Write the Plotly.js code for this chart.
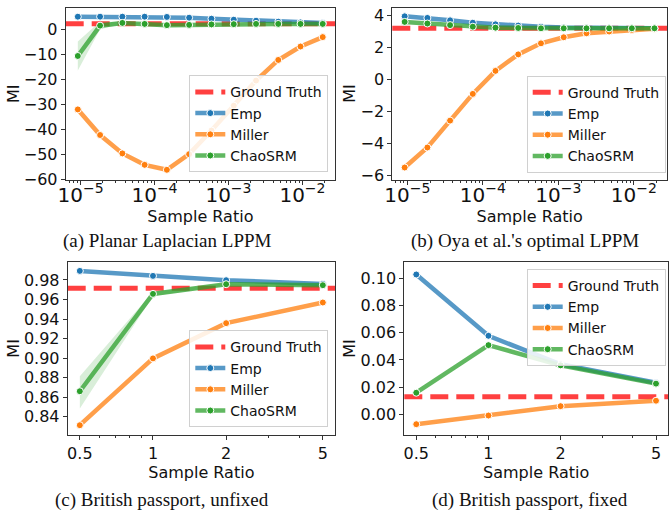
<!DOCTYPE html>
<html>
<head>
<meta charset="utf-8">
<script src="https://cdn.plot.ly/plotly-3.0.1.min.js"></script>
<style>html,body{margin:0;padding:0;background:#fff;}#chart{width:669px;height:516px;}</style>
</head>
<body>
<div id="chart"></div>
<script>
// ---------- data ----------
const seriesNames = ["Ground Truth", "Emp", "Miller", "ChaoSRM"];
const captions = ["(a) Planar Laplacian LPPM", "(b) Oya et al.'s optimal LPPM", "(c) British passport, unfixed", "(d) British passport, fixed"];

const xRatioSmall = [9.2e-6, 1.84e-5, 3.68e-5, 7.36e-5, 1.47e-4, 2.94e-4, 5.89e-4, 1.18e-3, 2.36e-3, 4.71e-3, 9.42e-3, 1.88e-2];
const xRatioBig = [0.5, 1, 2, 5];

// (a) Planar Laplacian LPPM
const gtA = 2.5;
const empA = [5.3, 5.3, 5.3, 5.3, 5.2, 4.9, 4.5, 4.1, 3.7, 3.3, 3.0, 2.8];
const millerA = [-32.0, -42.3, -49.7, -54.3, -56.3, -50.0, -40.5, -30.5, -20.4, -12.1, -6.7, -2.9];
const chaoA = [-10.5, 1.7, 2.8, 2.4, 1.9, 2.0, 2.2, 2.3, 2.4, 2.4, 2.4, 2.4];
const chaoALo = [-16.3, 0.3, 2.4, 2.2, 1.7, 1.9, 2.1, 2.2, 2.3, 2.3, 2.3, 2.3];
const chaoAHi = [-4.7, 3.4, 3.2, 2.6, 2.1, 2.1, 2.3, 2.4, 2.5, 2.5, 2.5, 2.5];

// (b) Oya et al.'s optimal LPPM
const gtB = 3.2;
const empB = [3.95, 3.85, 3.7, 3.55, 3.45, 3.37, 3.3, 3.25, 3.22, 3.2, 3.2, 3.2];
const millerB = [-5.5, -4.25, -2.57, -0.9, 0.54, 1.57, 2.26, 2.64, 2.89, 3.0, 3.1, 3.17];
const chaoB = [3.6, 3.5, 3.4, 3.3, 3.24, 3.22, 3.2, 3.2, 3.2, 3.2, 3.2, 3.2];

// (c) British passport, unfixed
const gtC = 0.9715;
const empC = [0.9892, 0.9841, 0.9797, 0.9759];
const millerC = [0.8315, 0.8998, 0.9358, 0.9569];
const chaoC = [0.8662, 0.9657, 0.9756, 0.9746];
const chaoCLo = [0.8485, 0.9635, 0.9745, 0.9738];
const chaoCHi = [0.8815, 0.9680, 0.9767, 0.9754];

// (d) British passport, fixed
const gtD = 0.0128;
const empD = [0.103, 0.0578, 0.0368, 0.0232];
const millerD = [-0.0074, -0.001, 0.0059, 0.0099];
const chaoD = [0.0158, 0.0509, 0.036, 0.0225];

// ---------- styles ----------
const col = {
  gt: "rgba(255,0,0,0.75)",
  emp: "rgba(31,119,180,0.75)", empM: "#1f77b4",
  mil: "rgba(255,127,14,0.75)", milM: "#ff7f0e",
  chao: "rgba(44,160,44,0.75)", chaoM: "#2ca02c",
  chaoBand: "rgba(44,160,44,0.18)"
};
const LW = 4.5;
const font = "DejaVu Sans, sans-serif";

function panel(idx, x, gt, emp, mil, chao, lo, hi) {
  const xa = idx === 1 ? "x" : "x" + idx;
  const ya = idx === 1 ? "y" : "y" + idx;
  const lg = idx === 1 ? "legend" : "legend" + idx;
  const tr = [];
  if (lo && hi) {
    tr.push({x: x, y: lo, xaxis: xa, yaxis: ya, mode: "lines", line: {width: 0, color: "rgba(0,0,0,0)"}, showlegend: false, hoverinfo: "skip"});
    tr.push({x: x, y: hi, xaxis: xa, yaxis: ya, mode: "lines", line: {width: 0, color: "rgba(0,0,0,0)"}, fill: "tonexty", fillcolor: col.chaoBand, showlegend: false, hoverinfo: "skip"});
  }
  // legend entry for the ground truth line (the line itself is a layout shape spanning the axis)
  tr.push({x: [null], y: [null], xaxis: xa, yaxis: ya, mode: "lines", name: seriesNames[0], legend: lg,
    line: {color: col.gt, width: 5, dash: "18px,8px"}});
  const mk = (c) => ({size: 7, color: c, line: {color: "white", width: 1}});
  tr.push({x: x, y: emp, xaxis: xa, yaxis: ya, mode: "lines+markers", name: seriesNames[1], legend: lg,
    line: {color: col.emp, width: LW}, marker: mk(col.empM)});
  tr.push({x: x, y: mil, xaxis: xa, yaxis: ya, mode: "lines+markers", name: seriesNames[2], legend: lg,
    line: {color: col.mil, width: LW}, marker: mk(col.milM)});
  tr.push({x: x, y: chao, xaxis: xa, yaxis: ya, mode: "lines+markers", name: seriesNames[3], legend: lg,
    line: {color: col.chao, width: LW}, marker: mk(col.chaoM)});
  return tr;
}

const data = [].concat(
  panel(1, xRatioSmall, gtA, empA, millerA, chaoA, chaoALo, chaoAHi),
  panel(2, xRatioSmall, gtB, empB, millerB, chaoB),
  panel(3, xRatioBig, gtC, empC, millerC, chaoC, chaoCLo, chaoCHi),
  panel(4, xRatioBig, gtD, empD, millerD, chaoD)
);

const W = 669, H = 516;
const px = (a, b) => [a / W, b / W];
const py = (top, bot) => [1 - bot / H, 1 - top / H];

const axBase = {
  showline: true, mirror: true, linecolor: "#333", linewidth: 1,
  ticks: "outside", ticklen: 4, tickwidth: 1, tickcolor: "#333",
  showgrid: false, zeroline: false,
  tickfont: {family: font, size: 16, color: "#111"},
};
function xLog(domain, range, anchor, big) {
  const a = Object.assign({}, axBase, {
    type: "log", domain: domain, range: range, anchor: anchor,
    title: {text: "Sample Ratio", font: {family: font, size: 16, color: "#111"}, standoff: 0},
    minor: {ticks: "outside", ticklen: 2, tickcolor: "#333", dtick: "D1", showgrid: false}
  });
  if (big) { a.tickvals = xRatioBig; a.ticktext = xRatioBig.map(String); }
  else { a.dtick = 1; a.exponentformat = "power"; a.ticklabelstandoff = -6; }
  return a;
}
function yLin(domain, range, anchor, dtick, fmt) {
  return Object.assign({}, axBase, {
    domain: domain, range: range, anchor: anchor, dtick: dtick, tickformat: fmt,
    title: {text: "MI", font: {family: font, size: 16, color: "#111"}, standoff: 0}
  });
}
const legBase = {
  font: {family: font, size: 14, color: "#111"}, bgcolor: "rgba(255,255,255,0.85)",
  bordercolor: "#d0d0d0", borderwidth: 1, itemwidth: 30, tracegroupgap: 0, traceorder: "normal"
};

const shapes = [[gtA, "x", "y"], [gtB, "x2", "y2"], [gtC, "x3", "y3"], [gtD, "x4", "y4"]].map(([v, xa, ya]) => ({
  type: "line", xref: xa + " domain", yref: ya, x0: 0, x1: 1, y0: v, y1: v, layer: "below",
  line: {color: col.gt, width: 5, dash: "18px,8px"}
}));

const layout = {
  width: W, height: H, margin: {l: 0, r: 0, t: 0, b: 0},
  paper_bgcolor: "white", plot_bgcolor: "white", showlegend: true,
  font: {family: font, color: "#111"},
  xaxis: xLog(px(65.7, 335), [-5.2, -1.56], "y"),
  yaxis: yLin(py(8, 179.5), [-60.2, 8.8], "x", 10, "d"),
  xaxis2: xLog(px(392.3, 667), [-5.2, -1.56], "y2"),
  yaxis2: yLin(py(7.5, 179.5), [-6.25, 4.5], "x2", 2, "d"),
  xaxis3: xLog(px(67.7, 335), [-0.351, 0.749], "y3", true),
  yaxis3: yLin(py(262.3, 434.5), [0.822, 0.998], "x3", 0.02, ".2f"),
  xaxis4: xLog(px(404.3, 668), [-0.351, 0.749], "y4", true),
  yaxis4: yLin(py(262.3, 434.5), [-0.015, 0.112], "x4", 0.02, ".2f"),
  legend: Object.assign({}, legBase, {x: 328.3 / W, xanchor: "right", y: 1 - 172.3 / H, yanchor: "bottom"}),
  legend2: Object.assign({}, legBase, {x: 665.7 / W, xanchor: "right", y: 1 - 172.7 / H, yanchor: "bottom"}),
  legend3: Object.assign({}, legBase, {x: 328.3 / W, xanchor: "right", y: 1 - 427.3 / H, yanchor: "bottom"}),
  legend4: Object.assign({}, legBase, {x: 665.7 / W, xanchor: "right", y: 1 - 269 / H, yanchor: "top"}),
  shapes: shapes,
  annotations: [
    {text: captions[0], x: 167 / W, y: 1 - 241 / H},
    {text: captions[1], x: 525 / W, y: 1 - 241 / H},
    {text: captions[2], x: 162 / W, y: 1 - 500 / H},
    {text: captions[3], x: 530 / W, y: 1 - 500 / H}
  ].map(a => Object.assign(a, {xref: "paper", yref: "paper", xanchor: "center", yanchor: "middle", showarrow: false,
    font: {family: "Liberation Serif, serif", size: 19, color: "#111"}}))
};

Plotly.newPlot("chart", data, layout, {staticPlot: true, displayModeBar: false});
</script>
</body>
</html>
